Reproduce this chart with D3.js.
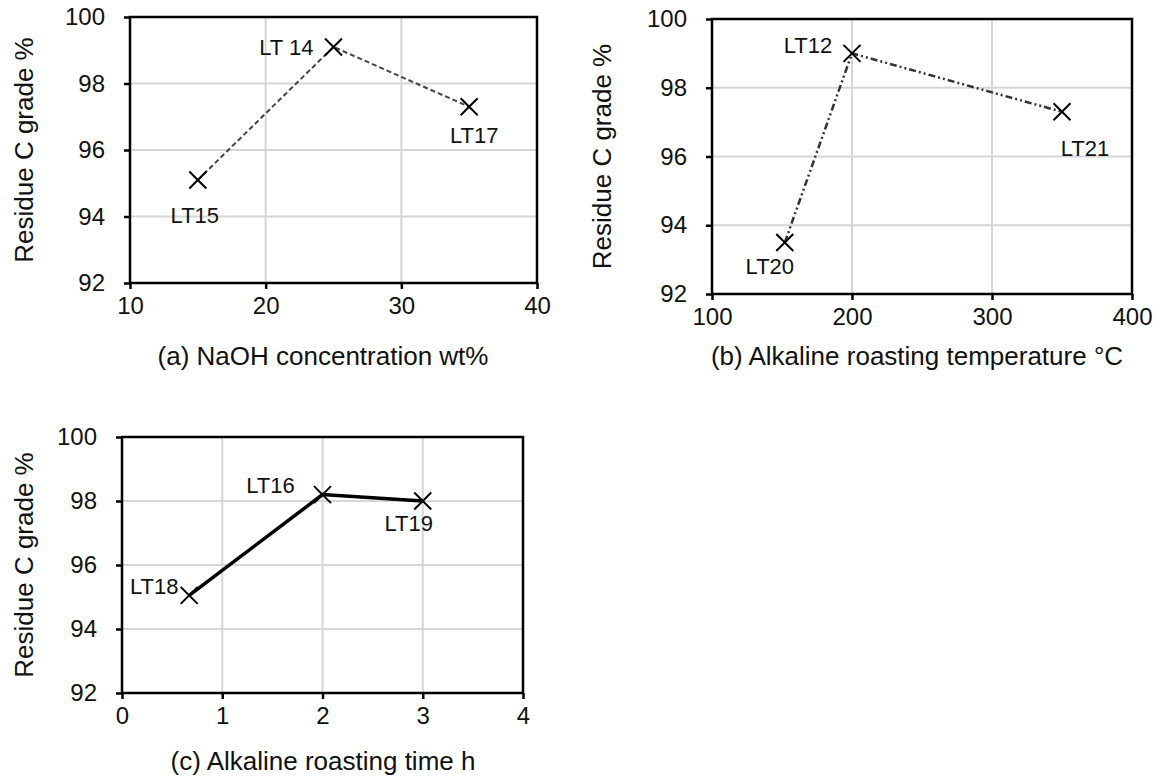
<!DOCTYPE html>
<html>
<head>
<meta charset="utf-8">
<script src="https://cdn.jsdelivr.net/npm/d3@7"></script>
<style>
  body { margin: 0; background: #fff; }
  text { font-family: "Liberation Sans", Arial, sans-serif; fill: #111; }
</style>
</head>
<body>
<div id="chart"></div>
<script>
// Tick labels shared by all panels
const yTicks = [92, 94, 96, 98, 100];

// (a) NaOH concentration
const xTicksA = [10, 20, 30, 40];
const xValuesA = [15, 25, 35];
const yValuesA = [95.1, 99.1, 97.3];
const labelsA = ["LT15", "LT 14", "LT17"];

// (b) roasting temperature
const xTicksB = [100, 200, 300, 400];
const xValuesB = [152, 200, 350];
const yValuesB = [93.5, 99.0, 97.3];
const labelsB = ["LT20", "LT12", "LT21"];

// (c) roasting time
const xTicksC = [0, 1, 2, 3, 4];
const xValuesC = [0.67, 2, 3];
const yValuesC = [95.05, 98.2, 98.0];
const labelsC = ["LT18", "LT16", "LT19"];

const width = 1155, height = 776;

const panels = [
  {
    box: { left: 130, top: 17, right: 537, bottom: 283 },
    xTicks: xTicksA, xs: xValuesA, ys: yValuesA, labels: labelsA,
    title: "(a) NaOH concentration wt%", titleY: 365, titleX: 323, yTitleX: 33,
    line: { dash: "5,3", width: 2, color: "#444" },
    // label offsets in px from the point: [dx, dy, anchor]
    offsets: [[-3, 43, "middle"], [-20, 8, "end"], [5, 36, "middle"]]
  },
  {
    box: { left: 712, top: 19, right: 1132, bottom: 294 },
    xTicks: xTicksB, xs: xValuesB, ys: yValuesB, labels: labelsB,
    title: "(b) Alkaline roasting temperature °C", titleY: 365, titleX: 917, yTitleX: 611,
    line: { dash: "7,3,2,3,2,3", width: 2.5, color: "#333" },
    offsets: [[-15, 32, "middle"], [-44, 0, "middle"], [23, 44, "middle"]]
  },
  {
    box: { left: 122, top: 437, right: 523, bottom: 693 },
    xTicks: xTicksC, xs: xValuesC, ys: yValuesC, labels: labelsC,
    title: "(c) Alkaline roasting time h", titleY: 770, titleX: 323, yTitleX: 33,
    line: { dash: null, width: 3.5, color: "#000" },
    offsets: [[-35, -1, "middle"], [-52, -2, "middle"], [-14, 30, "middle"]]
  }
];

const svg = d3.select("#chart")
  .append("svg")
  .attr("width", width)
  .attr("height", height)
  .attr("viewBox", [0, 0, width, height]);

panels.forEach(p => {
  const b = p.box;
  const xScale = d3.scaleLinear()
    .domain(d3.extent(p.xTicks))
    .range([b.left, b.right]);
  const yScale = d3.scaleLinear()
    .domain([92, 100])
    .range([b.bottom, b.top]);

  const g = svg.append("g");

  // gridlines
  g.selectAll(".hgrid")
    .data(yTicks)
    .join("line")
      .attr("x1", b.left).attr("x2", b.right)
      .attr("y1", d => yScale(d)).attr("y2", d => yScale(d))
      .attr("stroke", "#d6d6d6").attr("stroke-width", 2);
  g.selectAll(".vgrid")
    .data(p.xTicks)
    .join("line")
      .attr("x1", d => xScale(d)).attr("x2", d => xScale(d))
      .attr("y1", b.top).attr("y2", b.bottom)
      .attr("stroke", "#d6d6d6").attr("stroke-width", 2);

  // axes
  const bottomAxis = d3.axisBottom(xScale)
    .tickValues(p.xTicks)
    .tickFormat(d3.format("d"))
    .tickSize(6)
    .tickSizeOuter(0)
    .tickPadding(8);
  const leftAxis = d3.axisLeft(yScale)
    .tickValues(yTicks)
    .tickFormat(d3.format("d"))
    .tickSize(6)
    .tickSizeOuter(0)
    .tickPadding(19);

  const xAxisG = g.append("g")
    .attr("transform", `translate(0, ${b.bottom})`)
    .call(bottomAxis);
  const yAxisG = g.append("g")
    .attr("transform", `translate(${b.left}, 0)`)
    .call(leftAxis);

  [xAxisG, yAxisG].forEach(ax => {
    ax.select(".domain").remove();
    ax.selectAll("line").attr("stroke", "#000").attr("stroke-width", 2.5);
    ax.selectAll("text")
      .attr("font-size", 24)
      .attr("font-family", "Liberation Sans, Arial, sans-serif")
      .attr("fill", "#111");
  });

  // frame
  g.append("rect")
    .attr("x", b.left).attr("y", b.top)
    .attr("width", b.right - b.left).attr("height", b.bottom - b.top)
    .attr("fill", "none").attr("stroke", "#000").attr("stroke-width", 2.5);

  // series line
  const pts = p.xs.map((x, i) => [x, p.ys[i]]);
  const line = d3.line()
    .x(d => xScale(d[0]))
    .y(d => yScale(d[1]));
  g.append("path")
    .datum(pts)
    .attr("d", line)
    .attr("fill", "none")
    .attr("stroke", p.line.color)
    .attr("stroke-width", p.line.width)
    .attr("stroke-dasharray", p.line.dash);

  // X markers
  const s = 8.5;
  g.selectAll(".marker")
    .data(pts)
    .join("path")
      .attr("d", d => {
        const cx = xScale(d[0]), cy = yScale(d[1]);
        return `M${cx - s},${cy - s}L${cx + s},${cy + s}M${cx - s},${cy + s}L${cx + s},${cy - s}`;
      })
      .attr("stroke", "#000")
      .attr("stroke-width", 2)
      .attr("fill", "none");

  // point labels
  g.selectAll(".ptlabel")
    .data(pts)
    .join("text")
      .attr("x", (d, i) => xScale(d[0]) + p.offsets[i][0])
      .attr("y", (d, i) => yScale(d[1]) + p.offsets[i][1])
      .attr("text-anchor", (d, i) => p.offsets[i][2])
      .attr("font-size", 22)
      .text((d, i) => p.labels[i]);

  // axis titles
  g.append("text")
    .attr("x", p.titleX)
    .attr("y", p.titleY)
    .attr("text-anchor", "middle")
    .attr("font-size", 26)
    .text(p.title);

  g.append("text")
    .attr("transform", `translate(${p.yTitleX}, ${(b.top + b.bottom) / 2}) rotate(-90)`)
    .attr("text-anchor", "middle")
    .attr("font-size", 26)
    .text("Residue C grade %");
});
</script>
</body>
</html>
